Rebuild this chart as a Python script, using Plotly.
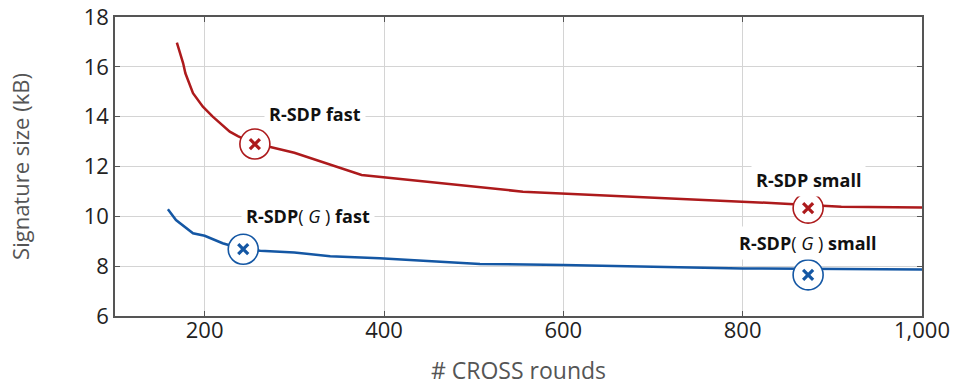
import plotly.graph_objects as go

# Data
red_x = [169, 176, 178.5, 187, 198, 209, 228, 237, 256, 272, 300, 358, 375, 555, 600, 800, 842, 873, 910, 1000]
red_y = [16.97, 16.14, 15.74, 14.94, 14.40, 14.0, 13.40, 13.22, 12.90, 12.79, 12.55, 11.86, 11.66, 10.99, 10.92, 10.59, 10.52, 10.45, 10.38, 10.35]

blue_x = [159, 168, 187, 200, 220, 243, 262, 300, 340, 395, 507, 600, 800, 873, 1000]
blue_y = [10.28, 9.85, 9.32, 9.22, 8.92, 8.68, 8.62, 8.55, 8.40, 8.32, 8.09, 8.05, 7.91, 7.90, 7.87]

marker_red_x = [256, 873]
marker_red_y = [12.90, 10.33]
marker_blue_x = [243, 873]
marker_blue_y = [8.68, 7.65]

label_text = ["<b>R-SDP fast</b>", "<b>R-SDP small</b>",
              "<b>R-SDP</b>( <i>G</i> )<b> fast</b>", "<b>R-SDP</b>( <i>G</i> )<b> small</b>"]
label_x = [323, 873, 315, 873]
label_y = [14.12, 11.45, 10.0, 8.95]

x_ticks = [200, 400, 600, 800, 1000]
y_ticks = [6, 8, 10, 12, 14, 16, 18]

RED = "#ad1a1c"
BLUE = "#1457a4"

fig = go.Figure()
fig.add_trace(go.Scatter(x=red_x, y=red_y, mode="lines", line=dict(color=RED, width=2.5), showlegend=False))
fig.add_trace(go.Scatter(x=blue_x, y=blue_y, mode="lines", line=dict(color=BLUE, width=2.5), showlegend=False))

for mx, my, c in [(marker_red_x, marker_red_y, RED), (marker_blue_x, marker_blue_y, BLUE)]:
    fig.add_trace(go.Scatter(x=mx, y=my, mode="markers", showlegend=False,
                             marker=dict(symbol="circle", size=30, color="white", line=dict(color=c, width=1.6))))
    fig.add_trace(go.Scatter(x=mx, y=my, mode="markers", showlegend=False,
                             marker=dict(symbol="x-thin", size=10, color=c, line=dict(color=c, width=3.2))))

for t, x, y in zip(label_text, label_x, label_y):
    fig.add_annotation(x=x, y=y, text=t, showarrow=False, bgcolor="white", borderpad=4,
                       font=dict(family="Open Sans", size=18, color="#111"))

axis_common = dict(showline=True, linecolor="#555", linewidth=1.5, mirror="ticks",
                   ticks="inside", ticklen=5, tickcolor="#555", tickwidth=1.2,
                   showgrid=True, gridcolor="#d4d4d4", gridwidth=1.3, zeroline=False,
                   automargin=False,
                   tickfont=dict(family="Open Sans", size=22, color="#222"))

fig.update_xaxes(range=[100, 1000], tickvals=x_ticks, tickformat=",", ticklabelstandoff=-6,
                 title=dict(text="# CROSS rounds", font=dict(family="Open Sans", size=23, color="#555"), standoff=26),
                 **axis_common)
fig.update_yaxes(range=[6, 18], tickvals=y_ticks, ticklabelstandoff=0,
                 title=dict(text="Signature size (kB)", font=dict(family="Open Sans", size=22, color="#555"), standoff=48),
                 **axis_common)

fig.update_layout(width=954, height=386, margin=dict(l=115, r=32, t=17, b=70),
                  plot_bgcolor="white", paper_bgcolor="white",
                  font=dict(family="Open Sans"))

fig.write_html("out.html", post_script="document.body.style.margin='0';",
               config={"displayModeBar": False})
